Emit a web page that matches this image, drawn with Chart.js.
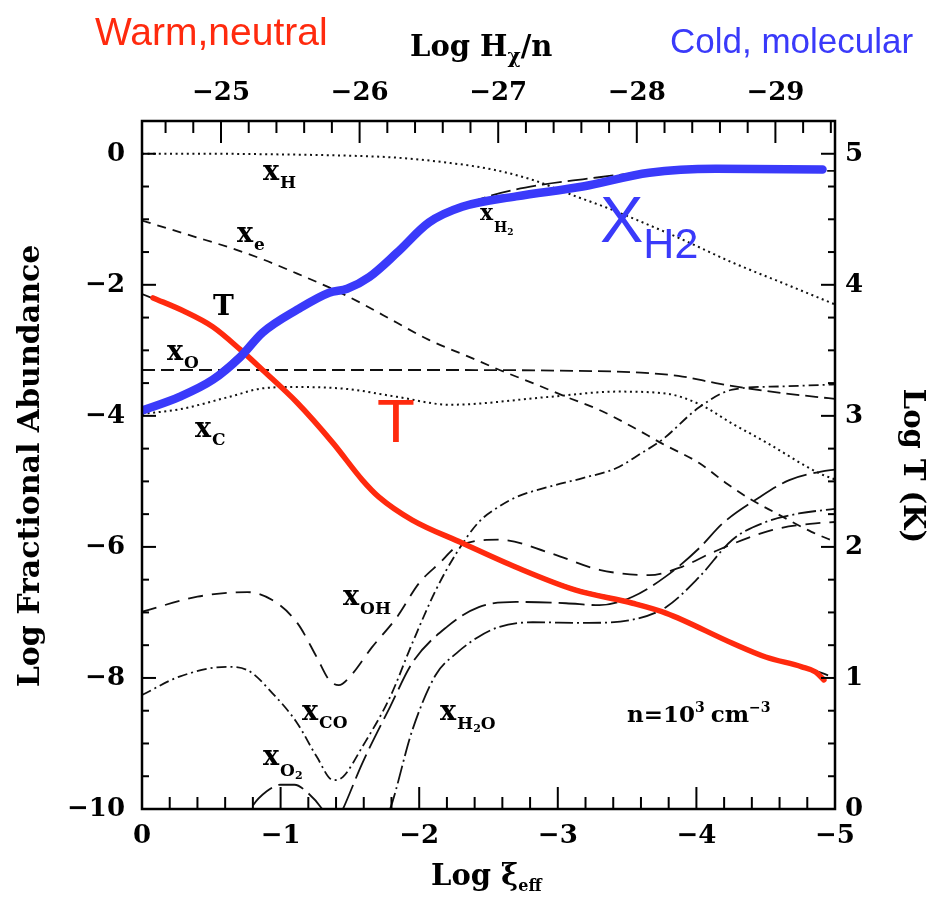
<!DOCTYPE html>
<html lang="en">
<head>
    <meta charset="UTF-8">
    <title>Log Fractional Abundance vs Log ξeff</title>
    <script src="https://cdn.jsdelivr.net/npm/chart.js"></script>
    <style>
        body {
            margin: 0;
            background-color: white;
        }
        .chart-container {
            position: relative;
            width: 931px;
            height: 897px;
        }
    </style>
</head>
<body>
    <div class="chart-container">
        <canvas id="abundanceChart"></canvas>
    </div>

    <script>
        // Axis ticks
        const xiTicks = [0, -1, -2, -3, -4, -5];            // Log xi_eff (bottom)
        const hxTicks = [-25, -26, -27, -28, -29];          // Log Hx/n (top)
        const abundanceTicks = [0, -2, -4, -6, -8, -10];    // left
        const tempTicks = [0, 1, 2, 3, 4, 5];               // Log T (K), right
        const hxAtXiZero = -24.43;                          // Log Hx/n at Log xi_eff = 0

        // Species curves: Log xi_eff and Log fractional abundance
        const xiH = [0, -0.5, -1, -1.5, -1.84, -2.22, -2.53, -2.82, -3.13, -3.35, -3.57, -3.9, -4.26, -4.62, -5];
        const logXH = [0, 0, -0.01, -0.03, -0.06, -0.14, -0.24, -0.40, -0.65, -0.82, -1.01, -1.31, -1.66, -1.97, -2.3];

        const xiE = [0, -0.37, -0.63, -0.87, -1.12, -1.35, -1.59, -1.84, -2.07, -2.36, -2.58, -2.82, -3.06, -3.30, -3.54, -3.75, -4.02, -4.21, -4.38, -4.57, -4.83, -5];
        const logXE = [-1.02, -1.26, -1.43, -1.61, -1.83, -2.04, -2.29, -2.58, -2.84, -3.10, -3.30, -3.50, -3.71, -3.91, -4.17, -4.42, -4.72, -5.02, -5.26, -5.48, -5.77, -5.92];

        const xiO = [0, -1, -2, -3, -3.6, -3.9, -4.14, -4.5, -4.86, -5];
        const logXO = [-3.30, -3.30, -3.30, -3.31, -3.34, -3.40, -3.50, -3.62, -3.71, -3.74];

        const xiC = [0, -0.27, -0.63, -0.87, -1.1, -1.48, -1.84, -2.22, -2.94, -3.42, -3.78, -4.02, -4.26, -4.5, -4.88, -5];
        const logXC = [-3.97, -3.90, -3.71, -3.58, -3.56, -3.59, -3.71, -3.83, -3.71, -3.63, -3.66, -3.82, -4.12, -4.40, -4.87, -4.97];

        const xiH2 = [0, -0.27, -0.5, -0.7, -0.87, -1.12, -1.35, -1.5, -1.65, -1.84, -2.07, -2.31, -2.53, -2.89, -3.18, -3.6, -4.14, -5];
        const logXH2 = [-3.97, -3.72, -3.42, -3.06, -2.74, -2.42, -2.15, -2.05, -1.88, -1.52, -1.08, -0.80, -0.63, -0.47, -0.39, -0.29, -0.26, -0.26];

        const xiOH = [0, -0.4, -0.76, -0.94, -1.12, -1.26, -1.35, -1.42, -1.5, -1.66, -1.84, -2.0, -2.15, -2.27, -2.58, -2.94, -3.30, -3.66, -3.90, -4.11, -4.55, -4.86, -5];
        const logXOH = [-6.99, -6.76, -6.69, -6.81, -7.16, -7.68, -8.03, -8.11, -7.98, -7.53, -7.07, -6.55, -6.24, -6.0, -5.89, -6.09, -6.35, -6.43, -6.30, -6.09, -5.74, -5.64, -5.62];

        const xiCO = [0, -0.27, -0.61, -0.76, -0.94, -1.12, -1.26, -1.38, -1.45, -1.59, -1.79, -1.95, -2.12, -2.27, -2.43, -2.58, -2.70, -2.94, -3.18, -3.42, -3.61, -3.75, -4.02, -4.26, -4.62, -5];
        const logXCO = [-8.26, -7.98, -7.83, -7.88, -8.23, -8.69, -9.20, -9.56, -9.51, -9.05, -8.29, -7.47, -6.66, -6.09, -5.62, -5.38, -5.24, -5.08, -4.95, -4.80, -4.56, -4.37, -3.87, -3.60, -3.55, -3.52];

        const xiO2 = [-0.7, -0.8, -0.9, -1.0, -1.1, -1.2, -1.3, -1.38, -1.45, -1.59, -1.79, -1.95, -2.2, -2.43, -2.70, -3.06, -3.30, -3.54, -3.78, -4.02, -4.19, -4.45, -4.67, -4.9, -5];
        const logXO2 = [-10.4, -9.95, -9.73, -9.63, -9.63, -9.76, -10.0, -10.3, -10.0, -9.3, -8.44, -7.77, -7.22, -6.92, -6.84, -6.86, -6.89, -6.76, -6.45, -6.02, -5.64, -5.25, -4.98, -4.85, -4.82];

        const xiH2O = [-1.7, -1.79, -1.95, -2.12, -2.27, -2.43, -2.58, -2.82, -3.18, -3.54, -3.78, -4.02, -4.26, -4.50, -4.74, -5];
        const logXH2O = [-10.4, -10.0, -8.8, -7.95, -7.62, -7.37, -7.22, -7.15, -7.16, -7.11, -6.92, -6.46, -5.89, -5.62, -5.49, -5.42];

        // Temperature, Log T (K) on the right axis
        const xiT = [0, -0.3, -0.51, -0.71, -0.87, -1.12, -1.38, -1.59, -1.71, -1.95, -2.31, -2.70, -3.13, -3.54, -3.78, -4.26, -4.50, -4.76, -4.95];
        const logT = [3.93, 3.80, 3.68, 3.50, 3.35, 3.10, 2.80, 2.51, 2.39, 2.21, 2.03, 1.85, 1.68, 1.58, 1.50, 1.27, 1.16, 1.09, 1.02];

        // Highlighted traces drawn over T and x_H2
        const xiTHighlight = [-0.08, -0.3, -0.51, -0.71, -0.87, -1.12, -1.38, -1.59, -1.71, -1.95, -2.31, -2.70, -3.13, -3.54, -3.78, -4.26, -4.50, -4.76, -4.86, -4.92];
        const logTHighlight = [3.90, 3.80, 3.68, 3.505, 3.35, 3.10, 2.79, 2.51, 2.38, 2.205, 2.03, 1.845, 1.67, 1.57, 1.495, 1.265, 1.16, 1.085, 1.045, 0.985];

        const xiH2Highlight = [0, -0.27, -0.51, -0.71, -0.87, -1.12, -1.35, -1.48, -1.64, -1.84, -2.07, -2.31, -2.7, -3.18, -3.66, -4.14, -4.91];
        const logXH2Highlight = [-3.92, -3.71, -3.45, -3.10, -2.73, -2.38, -2.12, -2.06, -1.88, -1.51, -1.05, -0.81, -0.65, -0.50, -0.29, -0.23, -0.24];

        const RED = 'rgb(255, 42, 14)';
        const BLUE = 'rgb(58, 58, 250)';
        const SERIF = '"DejaVu Serif", serif';
        const SANS = '"Liberation Sans", Arial, sans-serif';
        const DOTS = [2, 3.6];

        const pts = (xs, ys) => xs.map((x, i) => ({ x: x, y: ys[i] }));

        function curve(xs, ys, dash, extra) {
            return Object.assign({
                data: pts(xs, ys),
                borderColor: '#111',
                borderWidth: 1.8,
                borderDash: dash,
                pointRadius: 0,
                cubicInterpolationMode: 'monotone',
                xAxisID: 'x',
                yAxisID: 'y',
                order: 0
            }, extra || {});
        }

        const datasets = [
            curve(xiH2Highlight, logXH2Highlight, [], { borderColor: BLUE, borderWidth: 8.5, borderCapStyle: 'round', order: -2 }),
            curve(xiTHighlight, logTHighlight, [], { borderColor: RED, borderWidth: 5.5, borderCapStyle: 'round', yAxisID: 'y2', order: -1 }),
            curve(xiT, logT, [], { yAxisID: 'y2' }),
            curve(xiH, logXH, DOTS, { borderWidth: 2 }),
            curve(xiE, logXE, [9, 7]),
            curve(xiO, logXO, [13, 6]),
            curve(xiC, logXC, DOTS, { borderWidth: 2 }),
            curve(xiH2, logXH2, [20, 6]),
            curve(xiOH, logXOH, [15, 9]),
            curve(xiCO, logXCO, [10, 4, 2, 4]),
            curve(xiO2, logXO2, [26, 7]),
            curve(xiH2O, logXH2O, [18, 4, 2, 4])
        ];

        const tickFont = { family: SERIF, size: 26, weight: 'bold' };
        const minusFmt = v => (v < 0 ? '\u2212' + Math.abs(v) : String(v));

        function axis(position, ticks, min, max, size, padding, extra) {
            return Object.assign({
                type: 'linear',
                position: position,
                min: min,
                max: max,
                grid: { display: false, drawTicks: false },
                border: { display: false },
                ticks: { font: tickFont, color: '#000', padding: padding, callback: minusFmt, autoSkip: false, maxRotation: 0 },
                afterBuildTicks: s => { s.ticks = ticks.map(v => ({ value: v })); },
                afterFit: s => {
                    if (position === 'top' || position === 'bottom') s.height = size;
                    else s.width = size;
                }
            }, extra || {});
        }

        // Inward tick marks on all four sides plus the frame
        function inwardTicks(ctx, scale, step, majorStep, majorLen, minorLen) {
            const lo = Math.min(scale.min, scale.max), hi = Math.max(scale.min, scale.max);
            const first = Math.ceil(lo / step - 1e-6), last = Math.floor(hi / step + 1e-6);
            for (let k = first; k <= last; k++) {
                const v = k * step;
                const major = Math.abs(v / majorStep - Math.round(v / majorStep)) < 1e-6;
                const len = major ? majorLen : minorLen;
                const p = scale.getPixelForValue(v);
                ctx.beginPath();
                if (scale.position === 'bottom') { ctx.moveTo(p, scale.top); ctx.lineTo(p, scale.top - len); }
                else if (scale.position === 'top') { ctx.moveTo(p, scale.bottom); ctx.lineTo(p, scale.bottom + len); }
                else if (scale.position === 'left') { ctx.moveTo(scale.right, p); ctx.lineTo(scale.right + len, p); }
                else { ctx.moveTo(scale.left, p); ctx.lineTo(scale.left - len, p); }
                ctx.stroke();
            }
        }

        const framePlugin = {
            id: 'framePlugin',
            afterDatasetsDraw(chart) {
                const ctx = chart.ctx, a = chart.chartArea, s = chart.scales;
                ctx.save();
                ctx.strokeStyle = '#000';
                ctx.lineWidth = 2;
                inwardTicks(ctx, s.x, 0.2, 1, 22, 12);
                inwardTicks(ctx, s.x2, 0.2, 1, 22, 12);
                inwardTicks(ctx, s.y, 0.5, 2, 14, 7);
                inwardTicks(ctx, s.y2, 0.25, 1, 14, 7);
                ctx.lineWidth = 2.5;
                ctx.strokeRect(a.left, a.top, a.right - a.left, a.bottom - a.top);
                ctx.restore();
            }
        };

        // Text drawn as runs so sub/superscripts sit on their own baselines
        function textRuns(ctx, x, y, runs, color) {
            ctx.fillStyle = color || '#000';
            ctx.textAlign = 'left';
            ctx.textBaseline = 'alphabetic';
            let cx = x;
            runs.forEach(r => {
                ctx.font = (r.w || 'bold') + ' ' + r.s + 'px ' + (r.f || SERIF);
                ctx.fillText(r.t, cx, y + (r.dy || 0));
                cx += ctx.measureText(r.t).width + (r.gap || 0);
            });
        }

        function species(ctx, x, y, sub) {
            textRuns(ctx, x, y, [{ t: 'x', s: 27, gap: 1 }].concat(sub));
        }

        const labelPlugin = {
            id: 'labelPlugin',
            afterDraw(chart) {
                const ctx = chart.ctx;
                ctx.save();

                // axis titles
                textRuns(ctx, 410, 56, [{ t: 'Log H', s: 29 }, { t: 'χ', s: 20, dy: 7 }, { t: '/n', s: 29 }]);
                textRuns(ctx, 431, 885, [{ t: 'Log ξ', s: 29 }, { t: 'eff', s: 16, dy: 6 }]);

                ctx.font = 'bold 29px ' + SERIF;
                ctx.textAlign = 'center';
                ctx.textBaseline = 'alphabetic';
                ctx.fillStyle = '#000';
                ctx.save();
                ctx.translate(39, 466);
                ctx.rotate(-Math.PI / 2);
                ctx.font = 'bold 30px ' + SERIF;
                ctx.fillText('Log Fractional Abundance', 0, 0);
                ctx.restore();
                ctx.save();
                ctx.translate(904, 466);
                ctx.rotate(Math.PI / 2);
                ctx.fillText('Log T (K)', 0, 0);
                ctx.restore();

                // curve labels
                species(ctx, 263, 180, [{ t: 'H', s: 17, dy: 8 }]);
                species(ctx, 237, 242, [{ t: 'e', s: 17, dy: 8 }]);
                species(ctx, 167, 360, [{ t: 'O', s: 17, dy: 8 }]);
                species(ctx, 195, 437, [{ t: 'C', s: 17, dy: 8 }]);
                species(ctx, 343, 605, [{ t: 'OH', s: 17, dy: 9 }]);
                species(ctx, 302, 720, [{ t: 'CO', s: 17, dy: 8 }]);
                species(ctx, 263, 765, [{ t: 'O', s: 17, dy: 11 }, { t: '2', s: 11, dy: 14 }]);
                species(ctx, 440, 720, [{ t: 'H', s: 17, dy: 9 }, { t: '2', s: 11, dy: 12 }, { t: 'O', s: 17, dy: 9 }]);
                textRuns(ctx, 480, 220, [{ t: 'x', s: 22, gap: 1 }, { t: 'H', s: 14, dy: 12 }, { t: '2', s: 9, dy: 15 }]);
                textRuns(ctx, 213, 315, [{ t: 'T', s: 28 }]);
                textRuns(ctx, 627, 722, [{ t: 'n=10', s: 23 }, { t: '3', s: 14, dy: -10, gap: 6 }, { t: 'cm', s: 23 }, { t: '\u22123', s: 14, dy: -10 }]);

                // highlight annotations
                textRuns(ctx, 377, 442, [{ t: 'T', s: 62, w: 'normal', f: SANS }], RED);
                textRuns(ctx, 600, 242, [{ t: 'X', s: 65, w: 'normal', f: SANS }, { t: 'H2', s: 43, dy: 16, w: 'normal', f: SANS }], BLUE);
                textRuns(ctx, 95, 45, [{ t: 'Warm,neutral', s: 39, w: 'normal', f: SANS }], RED);
                textRuns(ctx, 670, 53, [{ t: 'Cold, molecular', s: 35, w: 'normal', f: SANS }], BLUE);

                ctx.restore();
            }
        };

        new Chart(document.getElementById('abundanceChart'), {
            type: 'line',
            data: { datasets: datasets },
            options: {
                responsive: true,
                maintainAspectRatio: false,
                animation: false,
                layout: { padding: 0 },
                plugins: {
                    legend: { display: false },
                    title: { display: false },
                    tooltip: { enabled: false }
                },
                scales: {
                    x: axis('bottom', xiTicks, -5, 0, 88, 12, { reverse: true }),
                    x2: axis('top', hxTicks, hxAtXiZero - 5, hxAtXiZero, 121, 12, { reverse: true }),
                    y: axis('left', abundanceTicks, -10, 0.5, 142, 17),
                    y2: axis('right', tempTicks, 0, 5.25, 96, 10)
                }
            },
            plugins: [framePlugin, labelPlugin]
        });
    </script>
</body>
</html>
